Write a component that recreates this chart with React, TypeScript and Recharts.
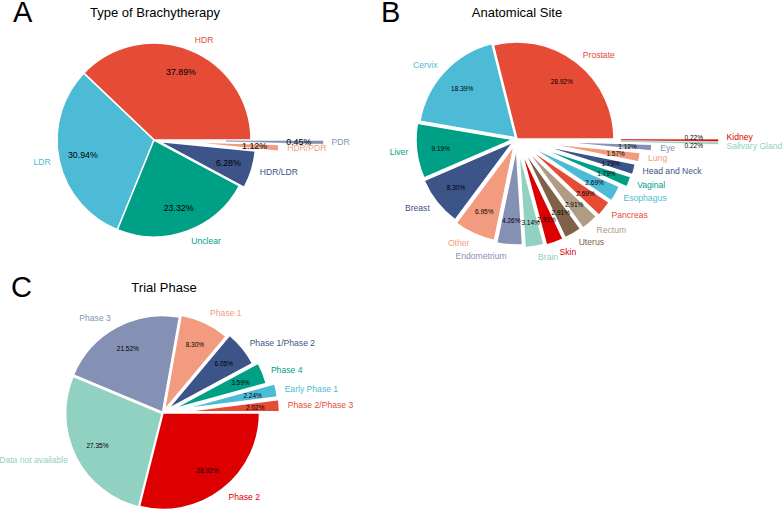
import { PieChart, Pie, Cell, Sector } from 'recharts';

// counts of 446 trials, percent labels come from the pie itself
const typeNames = ['HDR', 'LDR', 'Unclear', 'HDR/LDR', 'HDR/PDR', 'PDR'];
const typeCounts = [169, 138, 104, 28, 5, 2];

const siteNames = [
  'Prostate', 'Cervix', 'Liver', 'Breast', 'Other', 'Endometrium', 'Brain', 'Skin', 'Uterus',
  'Rectum', 'Pancreas', 'Esophagus', 'Vaginal', 'Head and Neck', 'Lung', 'Eye', 'Salivary Gland', 'Kidney',
];
const siteCounts = [129, 82, 41, 37, 31, 19, 14, 13, 13, 13, 12, 12, 8, 8, 7, 5, 1, 1];

const phaseNames = [
  'Phase 2/Phase 3', 'Early Phase 1', 'Phase 4', 'Phase 1/Phase 2', 'Phase 1', 'Phase 3', 'Data not available', 'Phase 2',
];
const phaseCounts = [9, 10, 16, 27, 37, 96, 122, 129];

const NPG = ['#E64B35', '#4DBBD5', '#00A087', '#3C5488', '#F39B7F', '#8491B4', '#91D1C2', '#DC0000', '#7E6148', '#B09C85'];

// how far each slice is pulled out, px
const typePull: Record<string, number> = { 'HDR/LDR': 5, 'HDR/PDR': 28, PDR: 72 };
const sitePull: Record<string, number> = {
  Cervix: 2, Liver: 4, Breast: 5, Other: 7, Endometrium: 9, Brain: 12, Skin: 13, Uterus: 13, Rectum: 14,
  Pancreas: 15, Esophagus: 16, Vaginal: 23, 'Head and Neck': 24, Lung: 27, Eye: 38, 'Salivary Gland': 104, Kidney: 104,
};
const phasePull: Record<string, number> = {
  'Data not available': 1, 'Phase 3': 1, 'Phase 1': 3, 'Phase 1/Phase 2': 6, 'Phase 4': 11, 'Early Phase 1': 19, 'Phase 2/Phase 3': 20,
};
// vertical nudges for the two hair-thin slices whose labels would overlap
const siteNudge: Record<string, number> = { Kidney: -3, 'Salivary Gland': 3 };

const FONT = '"Liberation Sans", Arial, Helvetica, sans-serif';
const RAD = Math.PI / 180;
const NAME_SIZE = 8.6;

const toRows = (names: string[], counts: number[]) => names.map((name, i) => ({ name, count: counts[i] }));
const sum = (xs: number[]) => xs.reduce((a, b) => a + b, 0);

function explodedShape(pull: Record<string, number>) {
  return (props: any) => {
    const d = pull[props.name] ?? 0;
    const dx = d * Math.cos(-props.midAngle * RAD);
    const dy = d * Math.sin(-props.midAngle * RAD);
    return <Sector {...props} cx={props.cx + dx} cy={props.cy + dy} />;
  };
}

// outside names placed the way plotly does it: box corner just off the rim
function sliceLabel(pull: Record<string, number>, pctSize: number, nudge: Record<string, number> = {}) {
  return (p: any) => {
    const d = pull[p.name] ?? 0;
    const cos = Math.cos(-p.midAngle * RAD);
    const sin = Math.sin(-p.midAngle * RAD);
    const rIn = p.outerRadius * 0.75;
    const r0 = p.outerRadius + d + 6;
    const mx = r0 * cos;
    const my = r0 * sin;
    const half = NAME_SIZE * 0.58;
    const sx = mx >= 0 ? 1 : -1;
    const dyBox = my >= 0 ? half : -half;
    const shiftY = Math.abs(my) < 1e-6 ? 0 : dyBox / (1 + (mx * mx) / (my * my));
    const n = nudge[p.name] ?? 0;
    return (
      <g>
        <text
          x={p.cx + (d + rIn) * cos}
          y={p.cy + (d + rIn) * sin + n}
          textAnchor="middle"
          dominantBaseline="central"
          fontSize={pctSize}
          fontFamily={FONT}
          fill="#000"
        >
          {(p.percent * 100).toFixed(2)}%
        </text>
        <text
          x={p.cx + mx + (sx * half) / 2}
          y={p.cy + my + shiftY + n}
          textAnchor={sx > 0 ? 'start' : 'end'}
          dominantBaseline="central"
          fontSize={NAME_SIZE}
          fontFamily={FONT}
          fill={p.fill}
        >
          {p.name}
        </text>
      </g>
    );
  };
}

const letter = { position: 'absolute' as const, fontSize: 29, lineHeight: '25px', color: '#000' };
const title = { position: 'absolute' as const, fontSize: 13, lineHeight: '13px', color: '#000', transform: 'translateX(-50%)', whiteSpace: 'nowrap' as const };

export default function App() {
  const panels = [
    { rows: toRows(typeNames, typeCounts), total: sum(typeCounts), pull: typePull, cx: 154, cy: 140, r: 97, pct: 8.8, nudge: {} },
    { rows: toRows(siteNames, siteCounts), total: sum(siteCounts), pull: sitePull, cx: 517, cy: 139, r: 97, pct: 6.5, nudge: siteNudge },
    { rows: toRows(phaseNames, phaseCounts), total: sum(phaseCounts), pull: phasePull, cx: 163, cy: 413, r: 96.5, pct: 6.5, nudge: {} },
  ];

  return (
    <div style={{ position: 'absolute', left: 0, top: 0, width: 784, height: 511, background: '#fff', fontFamily: FONT }}>
      <PieChart width={784} height={511} margin={{ top: 0, right: 0, bottom: 0, left: 0 }}>
        {panels.map((pn, k) => (
          <Pie
            key={k}
            data={pn.rows}
            dataKey="count"
            nameKey="name"
            cx={pn.cx}
            cy={pn.cy}
            innerRadius={0}
            outerRadius={pn.r}
            startAngle={0}
            endAngle={360}
            stroke="#fff"
            strokeWidth={1.5}
            shape={explodedShape(pn.pull)}
            activeShape={explodedShape(pn.pull)}
            label={sliceLabel(pn.pull, pn.pct, pn.nudge)}
            labelLine={false}
            isAnimationActive={false}
          >
            {pn.rows.map((row, i) => {
              const fill = NPG[i % NPG.length];
              // hair-thin slices would vanish under a white edge
              const tiny = row.count / pn.total < 0.01;
              return <Cell key={row.name} fill={fill} stroke={tiny ? fill : '#fff'} strokeWidth={tiny ? 0.6 : 1.5} />;
            })}
          </Pie>
        ))}
      </PieChart>
      <div style={{ ...letter, left: 13, top: 0 }}>A</div>
      <div style={{ ...letter, left: 381, top: 0 }}>B</div>
      <div style={{ ...letter, left: 11, top: 275 }}>C</div>
      <div style={{ ...title, left: 155, top: 6 }}>Type of Brachytherapy</div>
      <div style={{ ...title, left: 517, top: 6 }}>Anatomical Site</div>
      <div style={{ ...title, left: 164, top: 281 }}>Trial Phase</div>
    </div>
  );
}
